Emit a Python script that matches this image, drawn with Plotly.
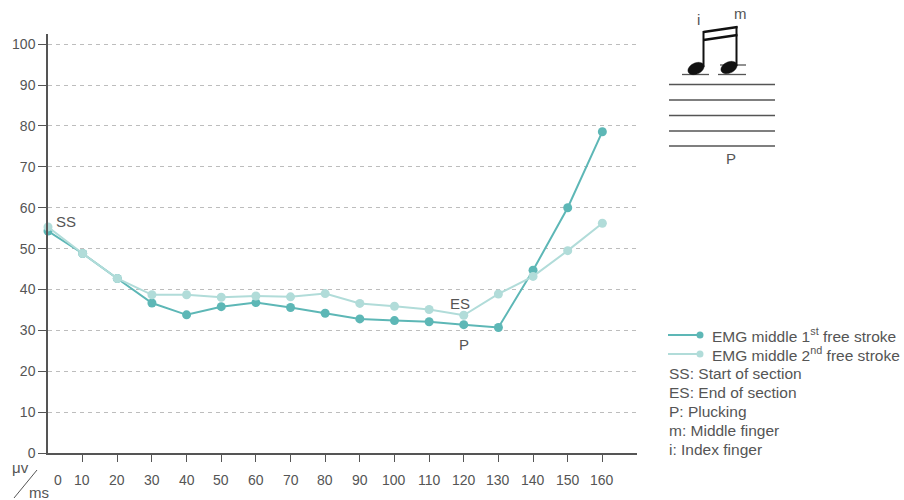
import numpy as np
import plotly.graph_objects as go

# EMG readings (μV) sampled every 10 ms
time_ms = [0, 10, 20, 30, 40, 50, 60, 70, 80, 90, 100, 110, 120, 130, 140, 150, 160]
emg_first = [54.3, 48.8, 42.7, 36.7, 33.8, 35.8, 36.8, 35.6, 34.2, 32.8, 32.4, 32.1, 31.4, 30.7, 44.7, 60.0, 78.6]
emg_second = [55.3, 48.8, 42.7, 38.7, 38.7, 38.1, 38.4, 38.2, 39.0, 36.6, 35.9, 35.1, 33.7, 38.9, 43.2, 49.5, 56.2]
y_ticks = [0, 10, 20, 30, 40, 50, 60, 70, 80, 90, 100]
x_tick_labels = [str(v) for v in time_ms]

DARK = "#5db7b6"
LIGHT = "#b1dcd9"
INK = "#555555"
FONT = "Liberation Sans"

W, H = 904, 500
L, R, T, B = 48, 637, 34, 453


def px(x):
    return (x - L) / (R - L)


def py(y):
    return (B - y) / (B - T)


fig = go.Figure()
fig.add_trace(go.Scatter(x=time_ms, y=emg_first, mode="lines+markers",
                         line=dict(color=DARK, width=2),
                         marker=dict(color=DARK, size=9),
                         cliponaxis=False, showlegend=False))
fig.add_trace(go.Scatter(x=time_ms, y=emg_second, mode="lines+markers",
                         line=dict(color=LIGHT, width=2),
                         marker=dict(color=LIGHT, size=9),
                         cliponaxis=False, showlegend=False))

shapes = []
annotations = []


def line(x0, y0, x1, y1, width=1.5, color=INK):
    shapes.append(dict(type="line", xref="paper", yref="paper",
                       x0=px(x0), y0=py(y0), x1=px(x1), y1=py(y1),
                       line=dict(color=color, width=width)))


def text(x, y, s, anchor="left", size=15.5):
    annotations.append(dict(xref="paper", yref="paper", x=px(x), y=py(y),
                            text=s, showarrow=False, xanchor=anchor, yanchor="middle",
                            font=dict(family=FONT, size=size, color=INK)))


def note_head(cx, cy, rx=8.5, ry=5.5, angle=-25):
    t = np.linspace(0, 2 * np.pi, 40)
    a = np.deg2rad(angle)
    xs = cx + rx * np.cos(t) * np.cos(a) - ry * np.sin(t) * np.sin(a)
    ys = cy + rx * np.cos(t) * np.sin(a) + ry * np.sin(t) * np.cos(a)
    path = "M " + " L ".join(f"{px(x):.5f},{py(y):.5f}" for x, y in zip(xs, ys)) + " Z"
    shapes.append(dict(type="path", xref="paper", yref="paper", path=path,
                       fillcolor="#111111", line=dict(color="#111111", width=0.5)))


# x tick labels (first two nudged to make room for the unit label)
for v, lab in zip(time_ms, x_tick_labels):
    shift = 10 if v == 0 else (-1 if v == 10 else 0)
    annotations.append(dict(x=v, y=0, xref="x", yref="y", text=lab, showarrow=False,
                            xanchor="center", yanchor="middle", xshift=shift, yshift=-27,
                            font=dict(family=FONT, size=14, color=INK)))

# unit label μv / ms
text(31, 467, "μv", anchor="right", size=15)
text(27, 492, "ms", size=15)
line(37, 470, 14, 498, width=1)

# point annotations
annotations.append(dict(x=0, y=emg_second[0], xref="x", yref="y", text="SS", showarrow=False,
                        xanchor="left", yanchor="middle", xshift=6, yshift=5,
                        font=dict(family=FONT, size=15, color=INK)))
annotations.append(dict(x=120, y=emg_second[12], xref="x", yref="y", text="ES", showarrow=False,
                        xanchor="center", yanchor="middle", xshift=-4, yshift=12,
                        font=dict(family=FONT, size=15, color=INK)))
annotations.append(dict(x=120, y=emg_first[12], xref="x", yref="y", text="P", showarrow=False,
                        xanchor="center", yanchor="middle", yshift=-20,
                        font=dict(family=FONT, size=15, color=INK)))

# legend
for yy, col, lab in [(335, DARK, "EMG middle 1<sup>st</sup> free stroke"),
                     (354, LIGHT, "EMG middle 2<sup>nd</sup> free stroke")]:
    line(668, yy, 700, yy, width=2, color=col)
    shapes.append(dict(type="circle", xref="paper", yref="paper",
                       x0=px(696.5), x1=px(703.5), y0=py(yy + 3.5), y1=py(yy - 3.5),
                       fillcolor=col, line=dict(color=col, width=0)))
    text(710, yy, lab)
for yy, lab in [(373, "SS: Start of section"), (392, "ES: End of section"),
                (411, "P: Plucking"), (430, "m: Middle finger"), (449, "i: Index finger")]:
    text(667, yy, lab)

# notation sketch: staff, two beamed notes
for yy in [84.5, 100, 115.5, 131, 146]:
    line(669, yy, 775, yy, width=1.5)
line(682, 74.5, 709, 74.5, width=1.3)
line(718, 74.5, 746, 74.5, width=1.3)
line(720, 65, 746, 65, width=1.3)
note_head(696, 68.5)
note_head(729, 67.5)
line(703.5, 67, 703.5, 31, width=2, color="#111111")
line(736.5, 66, 736.5, 26, width=2, color="#111111")
line(703.5, 32, 737.5, 27, width=2.5, color="#111111")
line(703.5, 40, 737.5, 35, width=2.5, color="#111111")
text(698, 19, "i", anchor="center", size=15)
text(741, 14, "m", anchor="center", size=15)
text(731, 158, "P", anchor="center", size=15)

fig.update_layout(
    width=W, height=H,
    margin=dict(l=L, r=W - R, t=T, b=H - B),
    paper_bgcolor="white", plot_bgcolor="white",
    font=dict(family=FONT, size=14, color=INK),
    shapes=shapes, annotations=annotations,
    xaxis=dict(range=[0, 170], tickvals=time_ms[1:], showticklabels=False,
               showgrid=False, zeroline=False, showline=True, linecolor=INK, linewidth=1.5,
               ticks="outside", ticklen=7, tickcolor=INK, tickwidth=1),
    yaxis=dict(range=[0, 102.5], tickvals=y_ticks,
               showgrid=True, gridcolor="#bdbdbd", gridwidth=1, griddash="4px,4px",
               zeroline=False, showline=True, linecolor=INK, linewidth=1.5,
               ticks="outside", ticklen=8, tickcolor=INK, tickwidth=1,
               tickfont=dict(family=FONT, size=14, color=INK)),
)
# extend the y axis line slightly below the x axis
line(48, 453, 48, 461, width=1.5)

fig.write_html("out.html")
